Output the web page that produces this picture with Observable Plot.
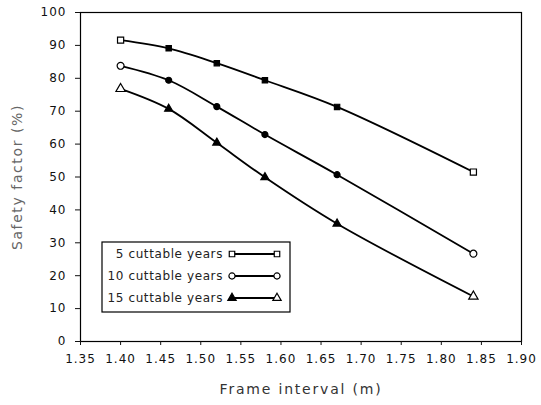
<!DOCTYPE html>
<html><head><meta charset="utf-8">
<script src="https://cdn.jsdelivr.net/npm/d3@7"></script>
<script src="https://cdn.jsdelivr.net/npm/@observablehq/plot@0.6"></script>
<style>
body{margin:0;background:#fff;}
#chart svg{font-family:"DejaVu Sans",sans-serif;}
</style>
</head><body><div id="chart"></div>
<script>
const frameInterval = [1.40, 1.46, 1.52, 1.58, 1.67, 1.84];
const years5  = [91.6, 89.1, 84.6, 79.4, 71.3, 51.5];
const years10 = [83.8, 79.4, 71.4, 62.9, 50.7, 26.7];
const years15 = [76.8, 70.7, 60.4, 49.9, 35.8, 13.7];
const seriesNames = ["5 cuttable years", "10 cuttable years", "15 cuttable years"];
const seriesSymbols = ["square", "circle", "triangle"];
const xTicks = [1.35,1.40,1.45,1.50,1.55,1.60,1.65,1.70,1.75,1.80,1.85,1.90];
const yTicks = [0,10,20,30,40,50,60,70,80,90,100];

const allSeries = [years5, years10, years15];
const data = [];
allSeries.forEach((vals, si) => vals.forEach((v, i) => data.push({
  x: frameInterval[i], y: v, series: seriesNames[si], symbol: seriesSymbols[si],
  open: i === 0 || i === vals.length - 1
})));

const chart = Plot.plot({
  width: 541, height: 405,
  marginLeft: 80, marginRight: 20, marginTop: 12, marginBottom: 64,
  style: {fontSize: "12px", color: "#111", background: "#fff"},
  x: {domain: [1.35, 1.90]},
  y: {domain: [0, 100]},
  symbol: {domain: seriesSymbols, range: seriesSymbols},
  marks: [
    Plot.frame({stroke: "#000", strokeWidth: 1.2}),
    Plot.line(data, {x: "x", y: "y", z: "series", curve: "catmull-rom", stroke: "#000", strokeWidth: 1.8}),
    Plot.dot(data, {x: "x", y: "y", symbol: "symbol", r: d => d.open ? 3.2 : 2.4, stroke: "#000", strokeWidth: 1.2, fill: d => d.open ? "#fff" : "#000"}),
    Plot.axisX({ticks: xTicks, tickFormat: d3.format(".2f"), tickSize: 4, tickPadding: 9, label: "Frame interval (m)", labelAnchor: "center", labelArrow: "none", labelOffset: 52}),
    Plot.axisY({ticks: yTicks, tickSize: 5, tickPadding: 9, label: "Safety factor (%)", labelAnchor: "center", labelArrow: "none", labelOffset: 68})
  ]
});
document.getElementById("chart").appendChild(chart);

const svg = d3.select(chart);
svg.selectAll("[aria-label='x-axis label'] text")
  .style("font-size", "14px").style("letter-spacing", "1.8px").attr("fill", "#333");
svg.selectAll("[aria-label='y-axis label'] text")
  .style("font-size", "14px").style("letter-spacing", "1.6px").attr("fill", "#666");
svg.selectAll("[aria-label='x-axis tick label'] text, [aria-label='y-axis tick label'] text")
  .style("font-size", "12px").style("letter-spacing", "1px");

// Legend
const lg = svg.append("g").attr("transform", "translate(102,242)");
lg.append("rect").attr("width", 188).attr("height", 70).attr("fill", "#fff").attr("stroke", "#000").attr("stroke-width", 1.2);
seriesNames.forEach((name, i) => {
  const yy = 12 + i * 22;
  lg.append("text").attr("x", 121).attr("y", yy).attr("dy", "0.35em").attr("text-anchor", "end")
    .style("font-size", "12px").style("letter-spacing", "0.6px").attr("fill", "#222").text(name);
  lg.append("line").attr("x1", 130).attr("x2", 175).attr("y1", yy).attr("y2", yy).attr("stroke", "#000").attr("stroke-width", 1.8);
  const sym = d3.symbol(seriesSymbols[i] === "square" ? d3.symbolSquare : seriesSymbols[i] === "circle" ? d3.symbolCircle : d3.symbolTriangle, 30);
  lg.append("path").attr("d", sym()).attr("transform", `translate(130,${yy})`).attr("fill", i === 2 ? "#000" : "#fff").attr("stroke", "#000").attr("stroke-width", 1.2);
  lg.append("path").attr("d", sym()).attr("transform", `translate(175,${yy})`).attr("fill", "#fff").attr("stroke", "#000").attr("stroke-width", 1.2);
});
</script>
</body></html>
